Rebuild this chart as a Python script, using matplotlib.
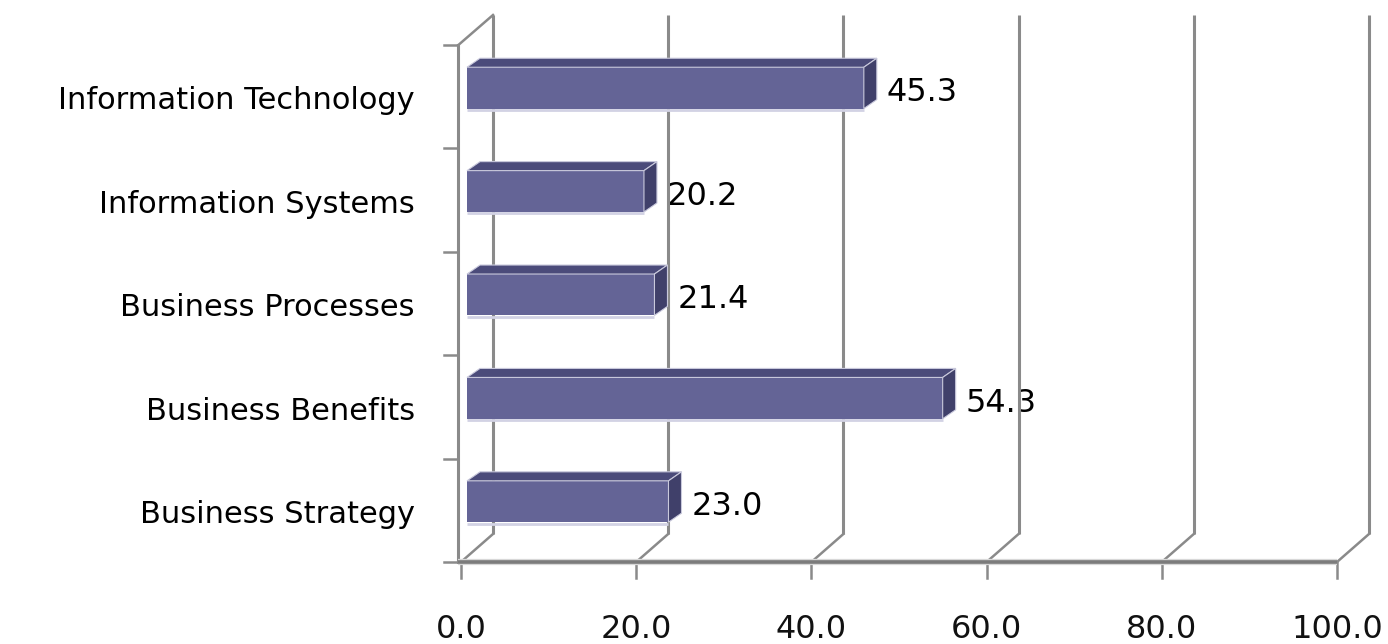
import matplotlib
matplotlib.use("Agg")
import matplotlib.pyplot as plt
from matplotlib.patches import Polygon

categories = ["Business Strategy", "Business Benefits", "Business Processes",
              "Information Systems", "Information Technology"]
values = [23.0, 54.3, 21.4, 20.2, 45.3]
xticks = [0, 20, 40, 60, 80, 100]
xtick_labels = ["0.0", "20.0", "40.0", "60.0", "80.0", "100.0"]

W, H, DPI = 1388, 644, 100
PX_X = 8.76     # pixels per value unit
PX_Y = 103.4    # pixels per category slot
X0_PX = 461     # pixel column of value 0 on the front plane
FLOOR_PX = 562  # pixel row of the front floor edge

# depth of the walls and of the bars, in data units
WALL_DX, WALL_DY = 32 / PX_X, 28 / PX_Y
BAR_DX, BAR_DY = 13 / PX_X, 9 / PX_Y
BAR_SHIFT = 6 / PX_X
BAR_H = 0.4
BAR_MID = 0.585
TOP = 5.0

GRID = "#8a8a8a"
FRONT = "#646496"
TOPC = "#4b4b7a"
SIDE = "#40406a"

fig = plt.figure(figsize=(W / DPI, H / DPI), dpi=DPI)
ax = fig.add_axes([0, 0, 1, 1])
ax.set_xlim(-X0_PX / PX_X, (W - X0_PX) / PX_X)
ax.set_ylim(-(H - FLOOR_PX) / PX_Y, FLOOR_PX / PX_Y)
ax.axis("off")

# back wall gridlines and floor diagonals
top_y = (FLOOR_PX - 15) / PX_Y
for v, lab in zip(xticks, xtick_labels):
    ax.plot([v + WALL_DX, v + WALL_DX], [WALL_DY, top_y], color=GRID, lw=2.2,
            solid_capstyle="butt", zorder=1)
    ax.plot([v, v + WALL_DX], [0, WALL_DY], color=GRID, lw=1.8, zorder=1)
    ax.plot([v, v], [0, -16 / PX_Y], color=GRID, lw=1.8, zorder=1)
    ax.text(v, -(630 - FLOOR_PX) / PX_Y, lab,
            ha="center", va="center", fontsize=23, color="#111111")

# front floor edge
ax.plot([-0.3, 100], [0, 0], color="#d8d8d8", lw=4.5, zorder=2, solid_capstyle="butt")
ax.plot([-0.3, 100], [0, 0], color="#7c7c7c", lw=2.6, zorder=2, solid_capstyle="butt")

# left wall: front edge, category ticks and top slant
ax.plot([-0.3, -0.3], [0, TOP], color=GRID, lw=2.2, zorder=1)
ax.plot([-0.3, WALL_DX], [TOP, top_y], color=GRID, lw=1.8, zorder=1)
for k in range(len(categories) + 1):
    ax.plot([-1.9, -0.3], [k, k], color=GRID, lw=1.8, zorder=1)

# bars: front face from barh, top and side faces as polygons
ypos = [i + BAR_MID for i in range(len(categories))]
ax.barh(ypos, values, height=BAR_H, left=BAR_SHIFT, color=FRONT, zorder=3)
for y, v in zip(ypos, values):
    x0, x1 = BAR_SHIFT, BAR_SHIFT + v
    yb, yt = y - BAR_H / 2, y + BAR_H / 2
    ax.add_patch(Polygon([(x0, yt), (x1, yt), (x1 + BAR_DX, yt + BAR_DY),
                          (x0 + BAR_DX, yt + BAR_DY)],
                         facecolor=TOPC, edgecolor="#c9c9dc", lw=0.8, zorder=3))
    ax.add_patch(Polygon([(x1, yb), (x1, yt), (x1 + BAR_DX, yt + BAR_DY),
                          (x1 + BAR_DX, yb + BAR_DY)],
                         facecolor=SIDE, edgecolor="#c9c9dc", lw=0.8, zorder=3))
    ax.plot([x0, x1], [yb - 1.5 / PX_Y, yb - 1.5 / PX_Y], color="#d2d2e4", lw=2,
            zorder=3, solid_capstyle="butt")
    ax.text(x1 + BAR_DX + 10 / PX_X, y - 5 / PX_Y, f"{v:.1f}",
            ha="left", va="center", fontsize=23, color="black", zorder=0)

# category labels
for i, name in enumerate(categories):
    ax.text(-(X0_PX - 415) / PX_X, i + 0.46, name, ha="right", va="center",
            fontsize=22, color="black")

fig.savefig("out.png", dpi=DPI)
